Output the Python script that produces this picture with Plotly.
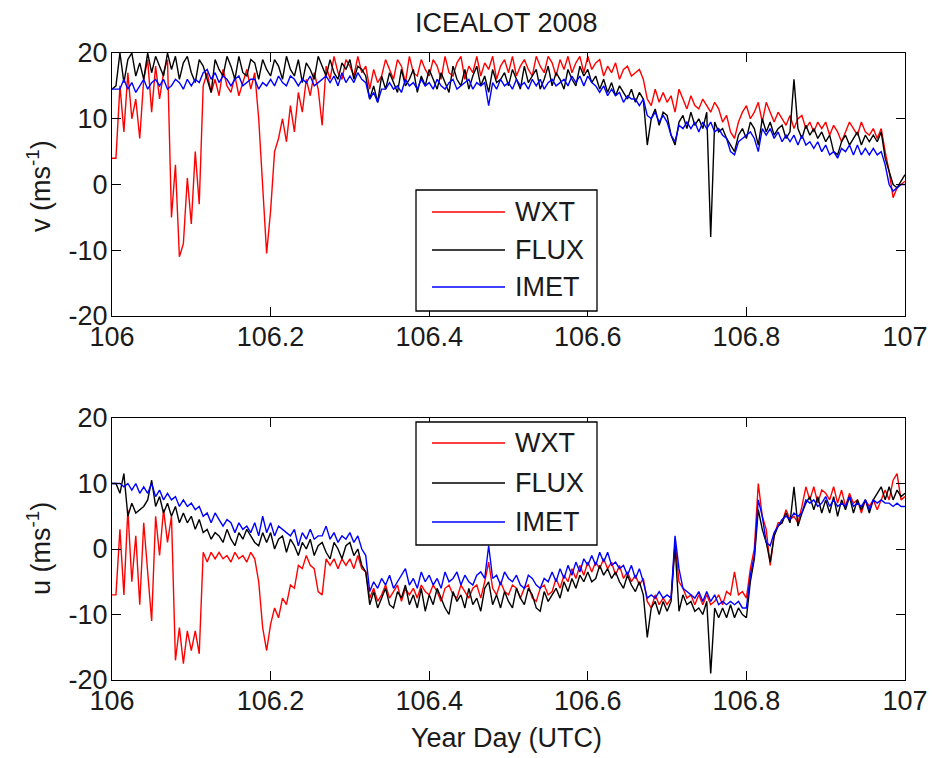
import numpy as np
import plotly.graph_objects as go

W, H = 932, 758

# Sampling times (year day, UTC), 0.005-day steps
year_day = np.round(np.linspace(106.0, 107.0, 201), 3)

# Meridional wind v (m/s)
v_wxt = [
    4, 4, 15, 8, 17, 10, 13, 7, 16, 19, 11, 18, 13, 17, 19, -5, 3, -11, -9, 1,
    -6, 5, -3, 15, 17, 14, 16, 13.5, 17.5, 15, 14, 16.5, 13.5, 15.5, 17.5, 14.5, 17, 10, -1, -10.5,
    -4, 5, 7, 10, 6.5, 12, 8, 14, 11, 16, 13.5, 17, 14.5, 9, 18, 16, 19.5, 17, 16, 19,
    18, 16.5, 19.5, 17, 18, 14.5, 17.5, 15.5, 16.5, 19, 17.5, 16, 19, 18, 15.5, 19.5, 17, 16.5, 19, 17.5,
    16.5, 19, 18, 16, 19.5, 17, 16.5, 18.5, 19.5, 16, 18, 17, 19.5, 16.5, 18.5, 17.5, 19.5, 16, 18, 19,
    17, 19.5, 16.5, 18, 19, 17.5, 16.5, 19.5, 18, 17, 19.5, 18.5, 16.5, 19, 17.5, 19.5, 17, 18.5, 19.5, 17,
    19.5, 17.5, 18.5, 19, 16.5, 18, 17, 18.5, 16, 17.5, 18, 16.5, 17, 17.5, 16, 13, 12, 14.5, 12.5, 14,
    12.5, 13.5, 11, 14.5, 13, 11.5, 13.5, 12, 11.5, 13, 12, 11, 12.5, 11.5, 9.5, 10.5, 8, 7, 9.5, 11,
    12, 10, 11, 12.5, 9.5, 12.5, 11, 9.5, 11, 10, 9, 10.5, 8.5, 10, 10.5, 8.5, 9.5, 8, 9.5, 8.5,
    9.5, 7.5, 9, 8, 6.5, 8, 9.5, 8.5, 7.5, 9.5, 8, 7.5, 8.5, 7, 8.5, 5, 2, -2, -0.5, 0,
    0.5,
]
v_flux = [
    14.5, 15, 20, 15.5, 19, 20, 16.5, 18.5, 16, 20, 17, 19.5, 18, 16.5, 20, 17.5, 19.5, 16, 18.5, 19.5,
    17, 15.5, 19, 18, 16, 14, 19, 17.5, 16.5, 19.5, 18, 16, 19.5, 17, 16.5, 19, 18.5, 16, 19, 17.5,
    16.5, 19, 18, 16, 19.5, 17.5, 16.5, 19, 15.5, 18.5, 17.5, 16, 19.5, 18, 16.5, 19, 17, 16, 18.5, 17.5,
    19, 16, 18, 17.5, 16.5, 13, 15, 12.5, 16.5, 14.5, 17, 15.5, 14, 17.5, 15, 16, 17.5, 14, 16.5, 15,
    17.5, 16, 14.5, 17, 15.5, 14, 18, 16, 15, 17.5, 14.5, 16.5, 18, 15, 16.5, 14, 17.5, 15.5, 16, 17,
    15, 17.5, 16, 14.5, 18, 15.5, 16.5, 17.5, 14.5, 16, 18, 15, 17, 16, 14.5, 17.5, 16, 15, 18, 16.5,
    17.5, 15.5, 16.5, 14.5, 16, 14, 15.5, 13.5, 15, 14, 13, 14.5, 12.5, 14, 13, 6, 10, 11.5, 9, 11,
    10.5, 7.5, 6, 9.5, 10.5, 8.5, 11, 9, 10, 8.5, 11, -8, 9.5, 8, 8.5, 7, 6, 5, 7.5, 8.5,
    7, 9.5, 8.5, 6, 10, 8, 9.5, 7.5, 8.5, 9, 7, 8, 16, 8.5, 7, 9, 7.5, 8.5, 7, 8,
    6.5, 7.5, 5, 4.5, 6.5, 7.5, 6, 7, 8, 6, 7.5, 6.5, 7.5, 6.5, 8, 4, 2, 0, -0.5, 0.5,
    1.5,
]
v_imet = [
    14.5, 14.5, 14.5, 16, 14.5, 15.5, 14, 15, 16, 14.5, 15.5, 16, 15, 16, 14.5, 15, 16, 15.5, 14.5, 16,
    15, 16, 15.5, 17, 17.5, 16, 17, 15.5, 16.5, 16, 15, 16, 16.5, 15, 15.5, 16, 16, 14.5, 15.5, 15,
    16, 15, 16.5, 15.5, 15, 16.5, 16, 15, 16, 15.5, 16.5, 15, 15.5, 16, 16.5, 15.5, 16.5, 15, 17, 15.5,
    16.5, 15.5, 17, 16, 15.5, 13, 14, 12.5, 14.5, 14.5, 15.5, 14.5, 15, 14, 16, 15, 15.5, 14.5, 16, 15,
    15.5, 14.5, 16, 15, 14.5, 15.5, 16, 14.5, 15, 15.5, 16, 14.5, 15.5, 15, 15.5, 12, 15.5, 14.5, 16, 15,
    15.5, 14.5, 16, 15, 15.5, 14.5, 16, 15, 16, 14.5, 15.5, 16, 15, 15.5, 16, 15, 16.5, 15.5, 16.5, 15,
    16.5, 15.5, 15, 14, 15, 13.5, 14.5, 13.5, 14, 12.5, 13.5, 13, 13, 12, 13, 10.5, 10, 11, 9.5, 10.5,
    9.5, 7.5, 6.5, 9, 8.5, 9.5, 8.5, 9.5, 8, 9.5, 8.5, 9.5, 8, 8.5, 7.5, 7, 5, 4.5, 6.5, 7,
    7.5, 8, 7, 5, 8.5, 7.5, 8.5, 7, 8, 6.5, 7.5, 6.5, 7.5, 6, 7.5, 6, 6.5, 5.5, 6.5, 5,
    6, 4.5, 5, 4, 5.5, 5, 6, 4.5, 6, 4.5, 5.5, 4.5, 5.5, 4.5, 5, 3, 0, -1, -0.5, 0,
    0,
]

# Zonal wind u (m/s)
u_wxt = [
    -7, -7, 3, -7, 6, -5, 2, -8.5, 4, -3, -11, 5, -1, 6, 1, 5, -17, -12, -17.5, -12.5,
    -15.5, -12.5, -16, -0.5, -2, -0.5, -1.5, -0.5, -1.5, -1, -2, -0.5, -1.5, -1, -2, -0.5, -1.5, -5, -12, -15.5,
    -11.5, -9, -10.5, -7.5, -8.5, -5.5, -6, -2.5, -3, -1, -2.5, -3, -6.5, -7, -1.5, -2.5, -1.5, -3, -1.5, -2.5,
    -1.5, -3, -1, -3, -3.5, -7.5, -6, -8, -7, -5.5, -7.5, -6.5, -5.5, -8, -6, -7, -6, -7.5, -5.5, -6.5,
    -7, -5.5, -6.5, -8, -6, -5.5, -7, -7.5, -5.5, -6.5, -7.5, -6, -5.5, -7.5, -5, -2, -6, -7, -5, -6.5,
    -7, -5.5, -6, -7.5, -6, -5.5, -7.5, -8, -6, -5.5, -7, -6.5, -4.5, -6, -4, -5, -3, -4.5, -2.5, -4,
    -2, -3.5, -2, -3, -1.5, -3, -2, -4, -2.5, -4.5, -3.5, -5, -4, -5.5, -4.5, -8, -9, -7, -8.5, -7.5,
    -8.5, -7.5, 1, -5, -6, -7.5, -7, -8.5, -7, -8.5, -7, -8.5, -8, -7, -8.5, -6.5, -7, -3.5, -7, -6.5,
    -7.5, -3, 0, 10, 5, 3, -2.5, 2, 4, 4, 6, 4.5, 5, 4, 6.5, 9.5, 7.5, 9.5, 7, 9,
    8.5, 7.5, 9.5, 7, 9, 6.5, 8.5, 7, 7.5, 5.5, 7.5, 6.5, 7.5, 6, 7.5, 9, 7.5, 10.5, 11.5, 7.5,
    8,
]
u_flux = [
    10, 10, 8.5, 11.5, 5, 7, 5.5, 6, 6.5, 7.5, 10.5, 6.5, 8, 5.5, 7, 5, 6.5, 4, 5.5, 4,
    5, 3, 4.5, 2.5, 3, 1.5, 2.5, 2, 1, 3, 1.5, 0.5, 2.5, 1.5, 3, 2, 1, 0.5, 2.5, 1,
    2.5, 0, 1.5, 2, -0.5, 1.5, 0.5, -1, 1, 0, 1.5, -1, 0.5, 1, -0.5, -1.5, 1, 0, -1.5, 0.5,
    1, -1, 0, -2.5, -3.5, -8.5, -6.5, -9, -7.5, -6, -8.5, -9, -6.5, -7.5, -5.5, -8.5, -7, -9, -6, -9.5,
    -7, -8.5, -6, -7.5, -9, -10, -6.5, -8, -7, -9, -6, -8.5, -7.5, -9.5, -6, -5, -8.5, -7, -9, -6.5,
    -8, -9, -6, -7.5, -8.5, -6, -7, -9, -9.5, -6.5, -8, -7, -6, -7.5, -5, -6.5, -4.5, -6, -4, -5,
    -3.5, -5, -4.5, -2.5, -4, -3, -4.5, -3.5, -5, -6, -4, -5.5, -6.5, -5, -7, -13.5, -9, -8, -10, -8,
    -9.5, -8, 0.5, -9.5, -7, -8.5, -8, -9.5, -9, -10, -8, -19, -9, -10.5, -9, -10.5, -8.5, -10.5, -9, -10,
    -10.5, -5, -1.5, 6, 3, 1, -2, 2, 3.5, 4, 5.5, 4, 9.5, 3.5, 5.5, 7, 8, 6, 8, 5.5,
    7.5, 5.5, 8, 5, 7.5, 6, 8, 5.5, 7.5, 6, 7.5, 5.5, 7.5, 8.5, 9.5, 7.5, 9.5, 7.5, 9, 8,
    8.5,
]
u_imet = [
    10, 10, 10, 9.5, 10, 9, 10, 8.5, 9.5, 8.5, 10, 8, 9, 7.5, 8.5, 7.5, 8, 6.5, 7.5, 6.5,
    7, 6, 6.5, 5, 5.5, 4, 5.5, 4.5, 3.5, 4.5, 4, 2.5, 4, 3, 3.5, 2.5, 4, 2, 5, 2.5,
    4, 2, 3.5, 3, 2.5, 2, 3, 0.5, 2.5, 1.5, 3, 1.5, 2, 2, 3.5, 1.5, 2.5, 1, 2, 1.5,
    2.5, 1, 2, 0, -1, -6.5, -5, -6, -4.5, -5.5, -4, -6, -5, -4, -3, -5.5, -4.5, -6, -3.5, -5,
    -4, -5.5, -4.5, -6, -3.5, -5, -4.5, -3.5, -5.5, -4, -5, -5.5, -4, -3.5, -4.5, 0.5, -4.5, -4, -5.5, -3.5,
    -4.5, -5, -4, -5.5, -6, -4, -4.5, -5.5, -6, -4.5, -5, -3.5, -5, -3, -4.5, -2.5, -4, -2, -3.5, -1.5,
    -2.5, -1, -2.5, -0.5, -2, -0.5, -2.5, -2, -3, -2.5, -4, -2.5, -4.5, -3, -5, -7.5, -7, -7.5, -6.5, -7.5,
    -7, -7.5, 2, -3, -6, -6.5, -7, -7.5, -6.5, -8, -6.5, -8, -7, -8.5, -8, -8.5, -8, -8.5, -8, -9,
    -9, -4, -1, 7.5, 5, 1, 0.5, 2.5, 3.5, 4.5, 5, 4.5, 5.5, 5, 5.5, 7.5, 7, 7.5, 6.5, 7,
    8, 6.5, 7.5, 6.5, 7, 6.5, 8, 6.5, 7, 6.5, 7.5, 6, 7.5, 7, 7.5, 7, 7, 6.5, 7, 6.5,
    6.5,
]

series_names = ["WXT", "FLUX", "IMET"]
series_colors = ["#ff0000", "#000000", "#0000ff"]
x_ticks = [106.0, 106.2, 106.4, 106.6, 106.8, 107.0]
x_tick_text = ["106", "106.2", "106.4", "106.6", "106.8", "107"]
y_ticks = [-20, -10, 0, 10, 20]
y_tick_text = ["-20", "-10", "0", "10", "20"]

FONT = "Liberation Sans, Arial, Helvetica, sans-serif"
FS = 27
TXT = "#1a1a1a"


def px(x):
    return x / W


def py(y):
    return 1 - y / H


fig = go.Figure()

panels = [
    ("x", "y", [v_wxt, v_flux, v_imet]),
    ("x2", "y2", [u_wxt, u_flux, u_imet]),
]
for xa, ya, vals in panels:
    for name, color, v in zip(series_names, series_colors, vals):
        assert len(v) == len(year_day)
        fig.add_trace(go.Scatter(
            x=year_day, y=v, mode="lines", name=name,
            line=dict(color=color, width=1.4),
            xaxis=xa, yaxis=ya, showlegend=False, hoverinfo="skip",
        ))

axis_common = dict(
    showline=True, linecolor="black", linewidth=1.3, mirror="allticks",
    ticks="inside", ticklen=9, tickwidth=1.3, tickcolor="black",
    showgrid=False, zeroline=False, automargin=False,
    tickfont=dict(family=FONT, size=FS, color=TXT),
)
x_axis = dict(axis_common, domain=[px(112), px(905)], range=[106, 107],
              tickvals=x_ticks, ticktext=x_tick_text, ticklabelstandoff=-4)
y_axis = dict(axis_common, range=[-20, 20], tickvals=y_ticks,
              ticktext=y_tick_text, ticklabelstandoff=-2)

fig.update_layout(
    width=W, height=H,
    margin=dict(l=0, r=0, t=0, b=0),
    paper_bgcolor="white", plot_bgcolor="white",
    showlegend=False,
    xaxis=dict(x_axis, anchor="y"),
    yaxis=dict(y_axis, domain=[py(316), py(53)], anchor="x"),
    xaxis2=dict(x_axis, anchor="y2"),
    yaxis2=dict(y_axis, domain=[py(680), py(418)], anchor="x2"),
)

annotations = []
shapes = []


def text(x, y, s, angle=0, xanchor="center"):
    annotations.append(dict(
        x=px(x), y=py(y), xref="paper", yref="paper", text=s,
        showarrow=False, textangle=angle, xanchor=xanchor, yanchor="middle",
        font=dict(family=FONT, size=FS, color=TXT),
    ))


text(506, 23, "ICEALOT 2008")
text(39, 186, "v (ms<sup>-1</sup>)", angle=-90)
text(39, 549, "u (ms<sup>-1</sup>)", angle=-90)
text(506, 738, "Year Day (UTC)")


def legend_box(x0, y0, x1, y1, rows):
    shapes.append(dict(
        type="rect", xref="paper", yref="paper",
        x0=px(x0), x1=px(x1), y0=py(y1), y1=py(y0),
        fillcolor="white", line=dict(color="black", width=1.3), layer="above",
    ))
    for yy, name, color in zip(rows, series_names, series_colors):
        shapes.append(dict(
            type="line", xref="paper", yref="paper",
            x0=px(432), x1=px(505), y0=py(yy), y1=py(yy),
            line=dict(color=color, width=1.3), layer="above",
        ))
        text(513, yy, name, xanchor="left")


legend_box(416, 190, 597, 311, [212, 250, 287])
legend_box(416, 422, 597, 545, [443, 483, 522])

fig.update_layout(annotations=annotations, shapes=shapes)
fig.write_html("out.html")
